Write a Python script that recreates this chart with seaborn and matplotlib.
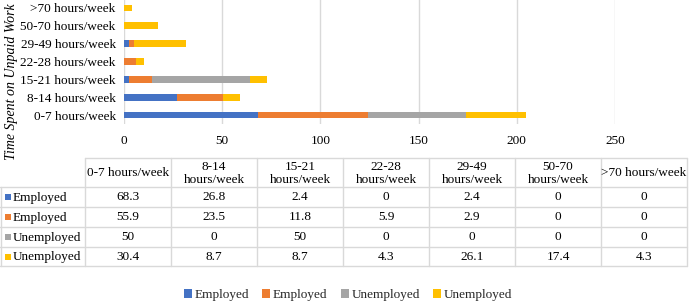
import matplotlib
matplotlib.use("Agg")
import matplotlib.pyplot as plt
import seaborn as sns
import pandas as pd
import numpy as np
from matplotlib.patches import Patch, Rectangle
from matplotlib.lines import Line2D

categories = ["0-7 hours/week", "8-14 hours/week", "15-21 hours/week", "22-28 hours/week",
              "29-49 hours/week", "50-70 hours/week", ">70 hours/week"]
header_labels = ["0-7 hours/week", "8-14\nhours/week", "15-21\nhours/week", "22-28\nhours/week",
                 "29-49\nhours/week", "50-70\nhours/week", ">70 hours/week"]
series_names = ["Employed", "Employed", "Unemployed", "Unemployed"]
employed_a = [68.3, 26.8, 2.4, 0, 2.4, 0, 0]
employed_b = [55.9, 23.5, 11.8, 5.9, 2.9, 0, 0]
unemployed_a = [50, 0, 50, 0, 0, 0, 0]
unemployed_b = [30.4, 8.7, 8.7, 4.3, 26.1, 17.4, 4.3]
colors = ["#4472C4", "#ED7D31", "#A5A5A5", "#FFC000"]

sns.set_theme(style="white")
plt.rcParams["font.family"] = ["Liberation Serif", "DejaVu Serif"]
FS = 9.5

W, H = 690, 303
fig = plt.figure(figsize=(W / 100, H / 100), dpi=100)

# bar axes in pixel placement
x0, x1 = 124, 615
y_top, y_bot = -1, 124
ax = fig.add_axes([x0 / W, 1 - y_bot / H, (x1 - x0) / W, (y_bot - y_top) / H])

series = [employed_a, employed_b, unemployed_a, unemployed_b]
cum = np.cumsum(np.array(series), axis=0)
order = categories[::-1]
for i in range(3, -1, -1):
    df = pd.DataFrame({"cat": categories, "val": cum[i]})
    sns.barplot(data=df, y="cat", x="val", order=order, orient="h", color=colors[i],
                width=0.38, saturation=1, ax=ax, linewidth=0, errorbar=None)

ax.set_xlim(0, 250)
ax.set_ylim(6.5, -0.5)
ax.set_xticks([0, 50, 100, 150, 200, 250])
ax.xaxis.grid(True, color="#D9D9D9", linewidth=1)
ax.set_axisbelow(True)
for s in ax.spines.values():
    s.set_visible(False)
ax.set_xlabel("")
ax.set_ylabel("")
ax.tick_params(axis="both", length=0, labelsize=FS, colors="#000000")
ax.tick_params(axis="x", pad=8)
ax.tick_params(axis="y", pad=6)

# y axis title
fig.text(12 / W, 1 - 82 / H, "Time Spent on Unpaid Work", rotation=90, ha="center", va="center",
         fontsize=10, style="italic", color="#000000")

# table drawn in pixel coordinates
tax = fig.add_axes([0, 0, 1, 1])
tax.set_xlim(0, W)
tax.set_ylim(H, 0)
tax.axis("off")
lc = "#D9D9D9"
lab_x0, col_x0, col_w = 0, 85, 86
col_edges = [col_x0 + k * col_w for k in range(8)]
head_top, head_bot = 158, 187
row_edges = [187, 207, 227, 247, 266]

tax.add_line(Line2D([col_x0, col_edges[-1]], [head_top, head_top], color=lc, lw=1))
for yv in row_edges:
    tax.add_line(Line2D([lab_x0, col_edges[-1]], [yv, yv], color=lc, lw=1))
for xv in col_edges:
    tax.add_line(Line2D([xv, xv], [head_top, row_edges[-1]], color=lc, lw=1))
tax.add_line(Line2D([lab_x0 + 0.5, lab_x0 + 0.5], [head_bot, row_edges[-1]], color=lc, lw=1))

for k, lab in enumerate(header_labels):
    tax.text(col_edges[k] + col_w / 2, (head_top + head_bot) / 2 + 1, lab, ha="center", va="center",
             fontsize=FS, linespacing=1.05, color="#000000")

for r in range(4):
    yc = (row_edges[r] + row_edges[r + 1]) / 2
    tax.add_patch(Rectangle((5, yc - 3), 6, 6, color=colors[r], lw=0))
    tax.text(13, yc + 0.5, series_names[r], ha="left", va="center", fontsize=FS, color="#000000")
    for k in range(7):
        v = series[r][k]
        txt = f"{v:g}"
        tax.text(col_edges[k] + col_w / 2, yc + 0.5, txt, ha="center", va="center",
                 fontsize=FS, color="#000000")

handles = [Patch(facecolor=c, edgecolor="none") for c in colors]
leg = fig.legend(handles, series_names, loc="center", bbox_to_anchor=(348 / W, 1 - 295 / H),
                 ncol=4, frameon=False, fontsize=FS, handlelength=0.6, handleheight=0.6,
                 handletextpad=0.2, columnspacing=1.0)

fig.savefig("out.png", dpi=100)
